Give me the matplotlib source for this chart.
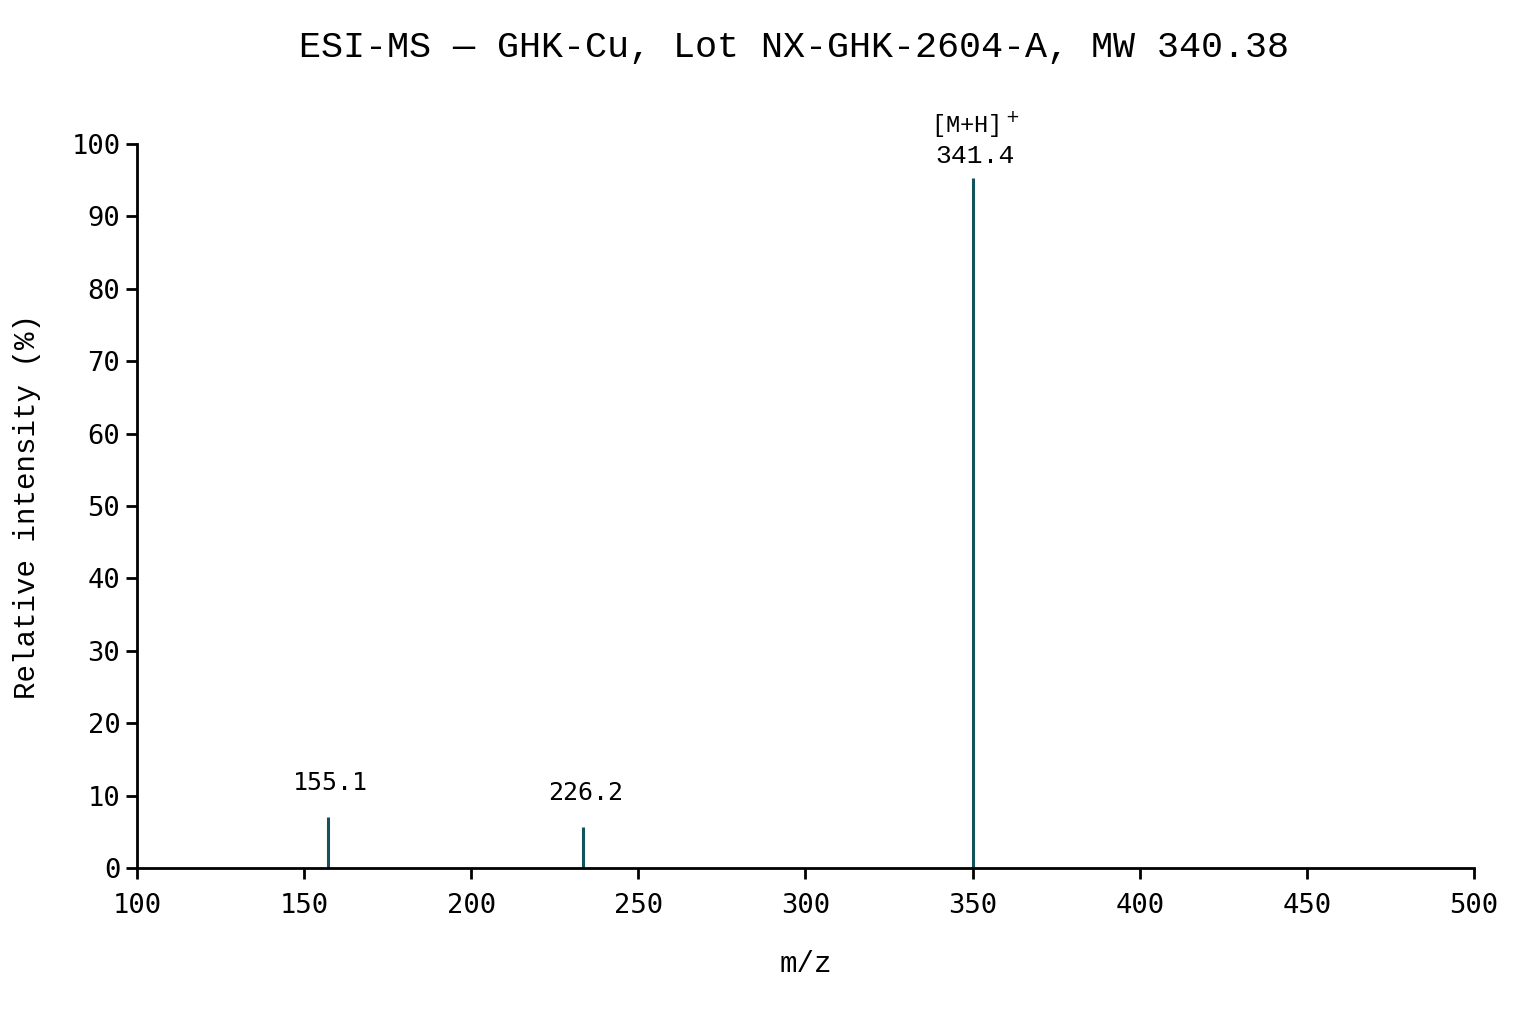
import matplotlib
matplotlib.use("Agg")
import matplotlib.pyplot as plt

# peak data (m/z position, relative intensity, label)
peak_mz = [157.0, 233.5, 350.0]
peak_int = [7.0, 5.6, 95.3]
peak_labels = ["155.1", "226.2", "341.4"]
base_peak_tag = r"[M+H]$^+$"

title = "ESI-MS \u2014 GHK-Cu, Lot NX-GHK-2604-A, MW 340.38"
xticks = [100, 150, 200, 250, 300, 350, 400, 450, 500]
yticks = [0, 10, 20, 30, 40, 50, 60, 70, 80, 90, 100]

mono = ["Liberation Mono", "DejaVu Sans Mono"]
tickfont = "DejaVu Sans Mono"
col = "#13535d"

fig = plt.figure(figsize=(15.36, 10.24), dpi=100)
ax = fig.add_axes([0.0892, 0.1523, 0.8704, 0.7071])

ax.vlines(peak_mz, 0, peak_int, color=col, linewidth=2.2)

for mz, h, lab in zip(peak_mz, peak_int, peak_labels):
    if h > 50:
        ax.annotate(lab, (mz, h), xytext=(2, 7), textcoords="offset points",
                    ha="center", va="bottom", fontsize=19, family=mono)
        ax.annotate(base_peak_tag, (mz, h), xytext=(2, 28), textcoords="offset points",
                    ha="center", va="bottom", fontsize=17, family=mono)
    else:
        ax.annotate(lab, (mz, h), xytext=(2, 16), textcoords="offset points",
                    ha="center", va="bottom", fontsize=18, family=tickfont)

ax.set_xlim(100, 500)
ax.set_ylim(0, 100)
ax.set_xticks(xticks)
ax.set_yticks(yticks)
ax.spines["top"].set_visible(False)
ax.spines["right"].set_visible(False)
ax.spines["left"].set_linewidth(2)
ax.spines["bottom"].set_linewidth(2)
ax.tick_params(axis="both", length=8, width=2)
ax.tick_params(axis="x", pad=10)
ax.tick_params(axis="y", pad=4)
for t in ax.get_xticklabels() + ax.get_yticklabels():
    t.set_family(tickfont)
    t.set_fontsize(19.5)

ax.set_xlabel("m/z", fontsize=21, family=mono, labelpad=22)
ax.set_ylabel("Relative intensity (%)", fontsize=21, family=mono, labelpad=22)
fig.text(0.517, 0.954, title, ha="center", va="center", fontsize=26.5, family=mono)

fig.savefig("out.png", dpi=100, facecolor="white")
